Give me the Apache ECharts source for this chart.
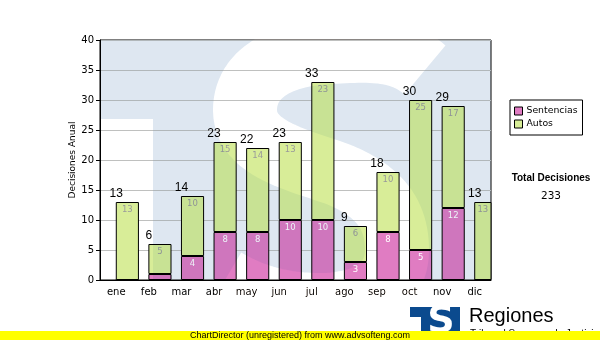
<!DOCTYPE html>
<html>
<head>
<meta charset="utf-8">
<script src="https://cdn.jsdelivr.net/npm/echarts@6/dist/echarts.min.js"></script>
<style>html,body{margin:0;padding:0;background:#fff;}#c{width:600px;height:340px;}</style>
</head>
<body>
<div id="c"></div>
<script>
const months = ['ene','feb','mar','abr','may','jun','jul','ago','sep','oct','nov','dic'];
const sentencias = [0,1,4,8,8,10,10,3,8,5,12,0];
const autos = [13,5,10,15,14,13,23,6,10,25,17,13];
const yTicks = [0,5,10,15,20,25,30,35,40];
const totals = months.map((m,i)=>sentencias[i]+autos[i]);
const grandTotal = totals.reduce((a,b)=>a+b,0);

// watermark "S" centreline (decoration only), cubic segments
const S_SEGS = [
  [[425,70],[400,48],[370,50],[330,52]],
  [[330,52],[270,55],[245,80],[245,110]],
  [[245,110],[245,150],[300,160],[340,175]],
  [[340,175],[380,192],[397,215],[397,250]],
  [[397,250],[397,290],[360,305],[320,305]],
  [[320,305],[280,305],[250,295],[225,280]]
];
function sampleS(){
  const pts=[];
  S_SEGS.forEach((s,k)=>{
    for(let i=(k?1:0);i<=24;i++){
      const t=i/24, u=1-t;
      const x=u*u*u*s[0][0]+3*u*u*t*s[1][0]+3*u*t*t*s[2][0]+t*t*t*s[3][0];
      const y=u*u*u*s[0][1]+3*u*u*t*s[1][1]+3*u*t*t*s[2][1]+t*t*t*s[3][1];
      pts.push([x,y]);
    }
  });
  return pts;
}
const S_PTS = sampleS();

const chart = echarts.init(document.getElementById('c'), null, {renderer:'canvas'});
const F = '"DejaVu Sans"';
const PLOT = {x:100, y:40, width:391, height:240};
const NOTCH = {x:100, y:119, width:53, height:161};
const S_W = 64;
chart.setOption({
  animation:false,
  backgroundColor:'#ffffff',
  grid:{left:100, top:40, right:109, bottom:60, show:true, borderColor:'#000', borderWidth:1, backgroundColor:'transparent'},
  legend:{
    data:['Sentencias','Autos'], orient:'vertical', left:510, top:100,
    padding:[5,5,5,4], itemGap:1, itemWidth:8, itemHeight:8, icon:'rect',
    borderColor:'#000', borderWidth:1, itemStyle:{borderColor:'#000', borderWidth:1},
    textStyle:{fontFamily:F, fontSize:9.3, color:'#000', lineHeight:12, padding:[0,0,0,-1]}
  },
  xAxis:{type:'category', data:months,
    axisLine:{lineStyle:{color:'#000'}}, axisTick:{alignWithLabel:true, length:4, lineStyle:{color:'#000'}},
    axisLabel:{fontFamily:F, fontSize:10, color:'#000', margin:7}},
  yAxis:{type:'value', min:yTicks[0], max:yTicks[yTicks.length-1], interval:yTicks[1]-yTicks[0],
    name:'Decisiones Anual', nameLocation:'middle', nameGap:23, nameRotate:90, nameMoveOverlap:false,
    nameTextStyle:{fontFamily:F, fontSize:9, color:'#000'},
    axisLine:{show:true, lineStyle:{color:'#000'}}, axisTick:{show:true, length:4, lineStyle:{color:'#000'}},
    axisLabel:{fontFamily:F, fontSize:10, color:'#000', margin:6},
    splitLine:{lineStyle:{color:'#c0c0c0', width:1}}},
  series:[
    {name:'Sentencias', type:'bar', stack:'a', barWidth:'71%', data:sentencias,
      itemStyle:{color:'#e07cc3', borderColor:'#000', borderWidth:1},
      label:{show:true, position:'insideTop', distance:3, fontFamily:F, fontSize:8.5, color:'#fff',
        formatter:p=>p.value>1?String(p.value):''}},
    {name:'Autos', type:'bar', stack:'a', data:autos,
      itemStyle:{color:'#d8ee98', borderColor:'#000', borderWidth:1},
      label:{show:true, position:'insideTop', distance:3, fontFamily:F, fontSize:8.5, color:'#9a9a9a',
        formatter:p=>p.value>1?String(p.value):''}},
    {name:'Total', type:'bar', barGap:'-100%', data:totals, z:1,
      itemStyle:{color:'rgba(0,0,0,0)', borderWidth:0},
      label:{show:true, position:'top', distance:2, fontFamily:'"Liberation Sans"', fontSize:12, color:'#000'}}
  ],
  graphic:[
    {type:'rect', silent:true, z:-10, shape:PLOT, style:{fill:'rgb(240,243,248)'}},
    {type:'rect', silent:true, z:-9, shape:NOTCH, style:{fill:'#fff'}},
    {type:'polyline', silent:true, z:-9, shape:{points:S_PTS}, style:{fill:null, stroke:'#fff', lineWidth:S_W, lineJoin:'round'}},
    {type:'rect', silent:true, z:100, shape:PLOT, style:{fill:'rgb(236,243,248)', blend:'multiply'}},
    {type:'rect', silent:true, z:101, shape:NOTCH, style:{fill:'rgb(19,12,7)', blend:'color-dodge'}},
    {type:'polyline', silent:true, z:101, shape:{points:S_PTS}, style:{fill:null, stroke:'rgb(19,12,7)', lineWidth:S_W, lineJoin:'round', blend:'color-dodge'}},
    {type:'text', silent:true, z:110, x:551, y:178, style:{text:'Total Decisiones', font:'bold 10px "Liberation Sans"', fill:'#000', align:'center', verticalAlign:'middle'}},
    {type:'text', silent:true, z:110, x:551, y:196, style:{text:String(grandTotal), font:'10.5px "DejaVu Sans"', fill:'#000', align:'center', verticalAlign:'middle'}},
    {type:'rect', silent:true, z:110, shape:{x:410,y:307,width:50,height:24}, style:{fill:'#0b4a8e'}},
    {type:'rect', silent:true, z:111, shape:{x:410,y:317,width:11,height:14}, style:{fill:'#fff'}},
    {type:'text', silent:true, z:111, x:441, y:322, style:{text:'S', font:'bold 38px "DejaVu Sans"', fill:'#fff', align:'center', verticalAlign:'middle'}},
    {type:'text', silent:true, z:110, x:469, y:316, style:{text:'Regiones', font:'20px "Liberation Sans"', fill:'#000', align:'left', verticalAlign:'middle'}},
    {type:'text', silent:true, z:110, x:470, y:329, style:{text:'Tribunal Supremo de Justicia', font:'10px "Liberation Sans"', fill:'#000', align:'left', verticalAlign:'top'}},
    {type:'rect', silent:true, z:120, shape:{x:0,y:331,width:600,height:9}, style:{fill:'#ffff00'}},
    {type:'text', silent:true, z:121, x:190, y:335.5, style:{text:'ChartDirector (unregistered) from www.advsofteng.com', font:'9px "Liberation Sans"', fill:'#000', align:'left', verticalAlign:'middle'}}
  ]
});
</script>
</body>
</html>
